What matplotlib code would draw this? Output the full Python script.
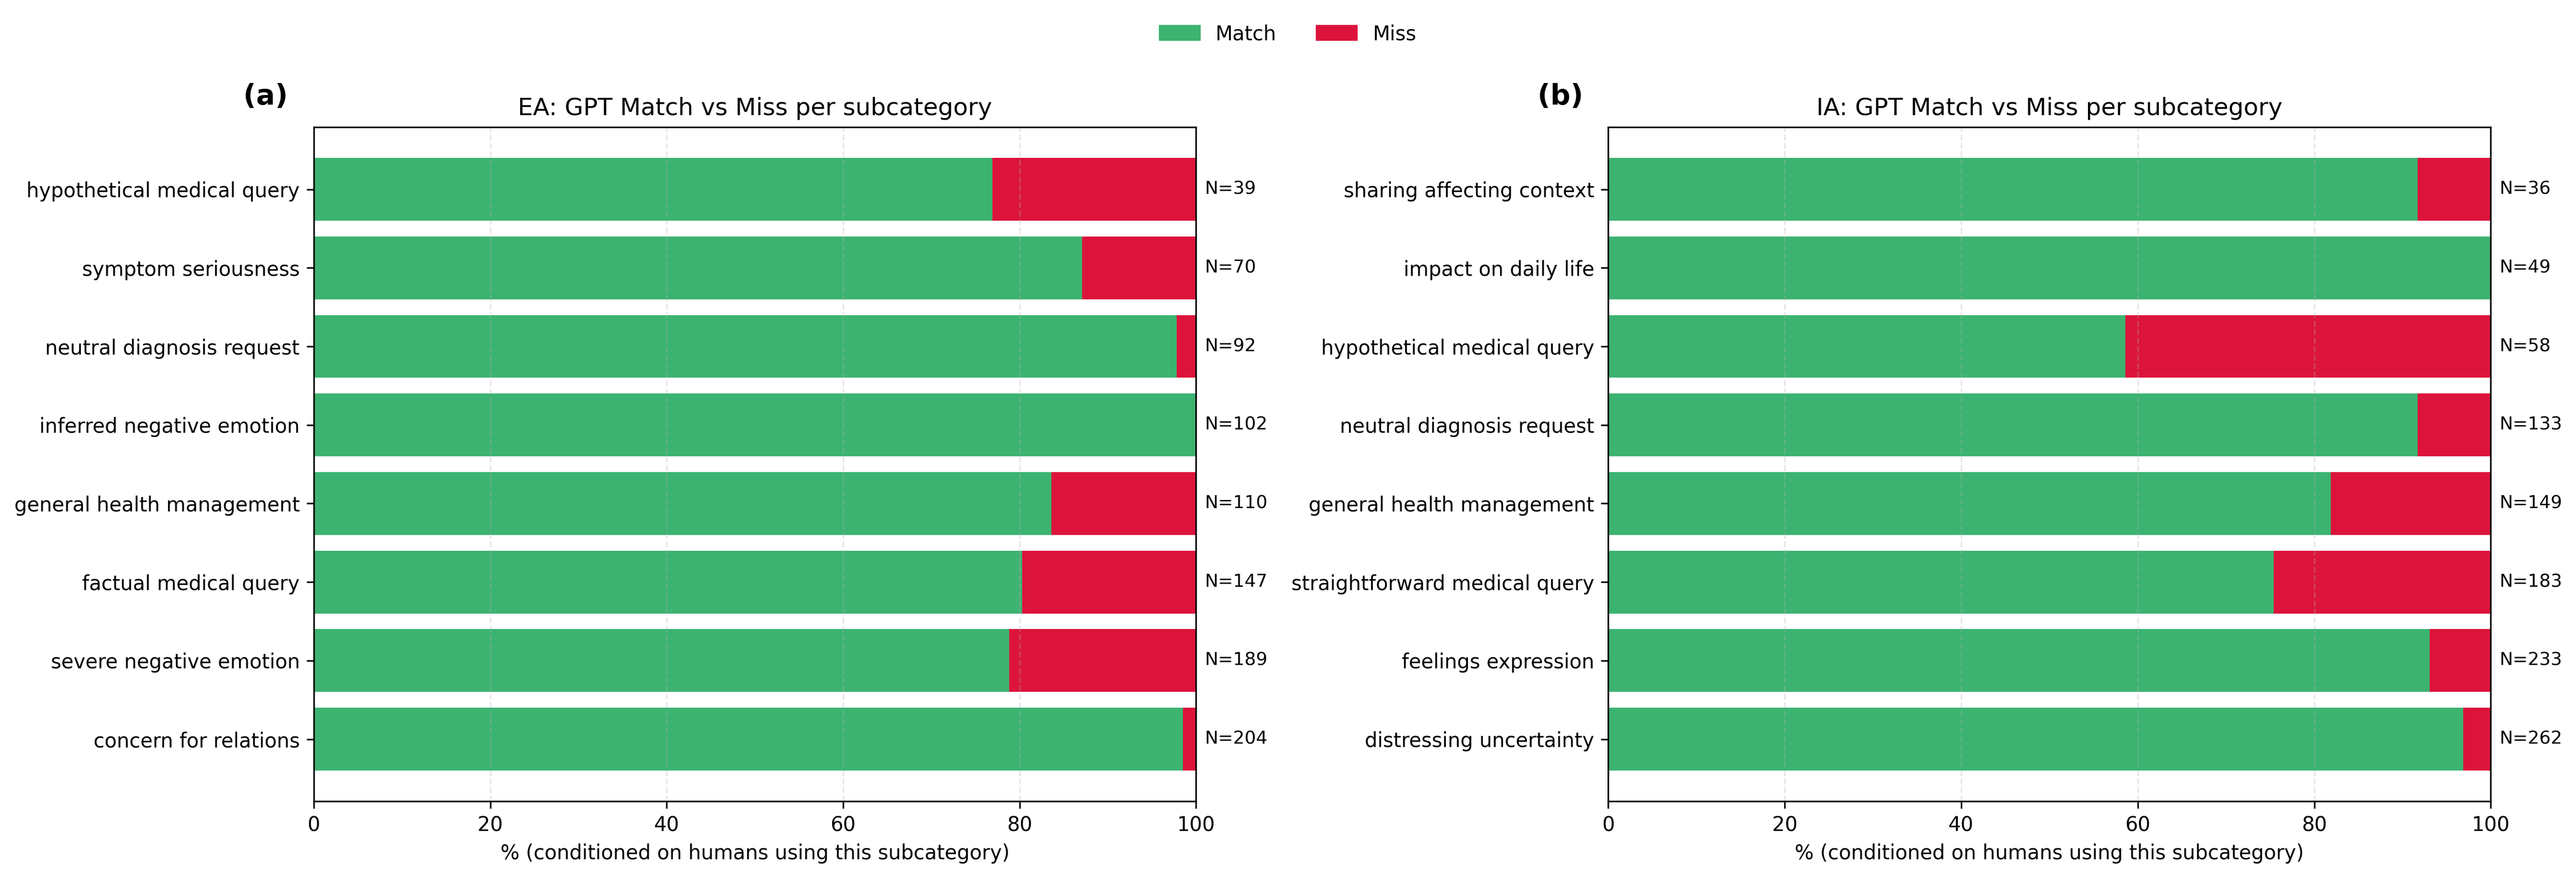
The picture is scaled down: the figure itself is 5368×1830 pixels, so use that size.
import matplotlib.pyplot as plt
from matplotlib.patches import Patch

# EA panel (top to bottom)
ea_labels = ["hypothetical medical query", "symptom seriousness", "neutral diagnosis request",
             "inferred negative emotion", "general health management", "factual medical query",
             "severe negative emotion", "concern for relations"]
ea_n = [39, 70, 92, 102, 110, 147, 189, 204]
ea_match = [76.9, 87.1, 97.8, 100.0, 83.6, 80.3, 78.8, 98.5]

# IA panel (top to bottom)
ia_labels = ["sharing affecting context", "impact on daily life", "hypothetical medical query",
             "neutral diagnosis request", "general health management", "straightforward medical query",
             "feelings expression", "distressing uncertainty"]
ia_n = [36, 49, 58, 133, 149, 183, 233, 262]
ia_match = [91.7, 100.0, 58.6, 91.7, 81.9, 75.4, 93.1, 96.9]

GREEN = "mediumseagreen"
RED = "crimson"

fig = plt.figure(figsize=(5368 / 300, 1830 / 300), dpi=300)
ax1 = fig.add_axes([0.1218, 0.0874, 0.3425, 0.7677])
ax2 = fig.add_axes([0.6243, 0.0874, 0.3426, 0.7677])


def draw(ax, labels, match, n, title, tag):
    miss = [100 - m for m in match]
    y = list(range(len(labels)))
    ax.barh(y, match, height=0.8, color=GREEN)
    ax.barh(y, miss, left=match, height=0.8, color=RED)
    for yi, ni in zip(y, n):
        ax.text(101, yi, f"N={ni}", va="center", ha="left", fontsize=9)
    ax.set_yticks(y)
    ax.set_yticklabels(labels, fontsize=10)
    ax.invert_yaxis()
    ax.set_xlim(0, 100)
    ax.set_xlabel("% (conditioned on humans using this subcategory)", fontsize=10)
    ax.set_title(title, fontsize=12, pad=6)
    ax.grid(axis="x", linestyle="--", alpha=0.3)
    ax.text(-0.08, 1.045, tag, transform=ax.transAxes, fontsize=14,
            fontweight="bold", va="center", ha="left")


draw(ax1, ea_labels, ea_match, ea_n, "EA: GPT Match vs Miss per subcategory", "(a)")
draw(ax2, ia_labels, ia_match, ia_n, "IA: GPT Match vs Miss per subcategory", "(b)")

handles = [Patch(color=GREEN, label="Match"), Patch(color=RED, label="Miss")]
fig.legend(handles=handles, loc="upper center", ncol=2, frameon=False,
           bbox_to_anchor=(0.5, 0.993), fontsize=10)

fig.savefig("out.png", dpi=300)
